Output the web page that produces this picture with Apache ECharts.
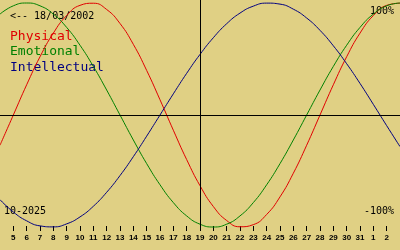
<!DOCTYPE html>
<html>
<head>
<meta charset="utf-8">
<script src="https://cdn.jsdelivr.net/npm/echarts@6/dist/echarts.min.js"></script>
<style>
html,body{margin:0;padding:0;background:#E0D084;}
#c{width:400px;height:250px;}
</style>
</head>
<body>
<div id="c"></div>
<script>
// Days shown (October 2025, continuing into November: 32 = 1 Nov, 33 = 2 Nov)
const days = [4,5,6,7,8,9,10,11,12,13,14,15,16,17,18,19,20,21,22,23,24,25,26,27,28,29,30,31,32,33,34];
const physical = [-0.27,0,0.27,0.52,0.731,0.888,0.979,0.998,0.942,0.817,0.631,0.398,0.136,-0.136,-0.398,-0.631,-0.817,-0.942,-0.998,-0.979,-0.888,-0.731,-0.52,-0.27,0,0.27,0.52,0.731,0.888,0.979,0.998];
const emotional = [0.901,0.975,1,0.975,0.901,0.782,0.623,0.434,0.223,0,-0.223,-0.434,-0.623,-0.782,-0.901,-0.975,-1,-0.975,-0.901,-0.782,-0.623,-0.434,-0.223,0,0.223,0.434,0.623,0.782,0.901,0.975,1];
const intellectual = [-0.756,-0.866,-0.945,-0.99,-0.999,-0.972,-0.91,-0.815,-0.69,-0.541,-0.372,-0.189,0,0.189,0.372,0.541,0.69,0.815,0.91,0.972,0.999,0.99,0.945,0.866,0.756,0.618,0.458,0.282,0.095,-0.095,-0.282];
const tickDays = [5,6,7,8,9,10,11,12,13,14,15,16,17,18,19,20,21,22,23,24,25,26,27,28,29,30,31,32,33];
const today = 19;
const seriesNames = ['Physical','Emotional','Intellectual'];
const seriesColors = ['#E00000','#008000','#000080'];
const birthLabel = '<-- 18/03/2002';
const monthLabel = '10-2025';
const topLabel = '100%';
const bottomLabel = '-100%';

const chart = echarts.init(document.getElementById('c'), null, {renderer:'canvas'});
const pairs = arr => days.map((d,i)=>[d,arr[i]]);
const vals = [physical, emotional, intellectual];
const mono = '"DejaVu Sans Mono", monospace';

const series = [{
  type:'line', data:[], z:1, silent:true,
  markLine:{
    silent:true, symbol:'none', animation:false,
    label:{show:false},
    lineStyle:{color:'#000', width:1, type:'solid'},
    data:[{xAxis: today}, {yAxis: 0}]
  }
}];
vals.forEach((v,i)=>{
  series.push({
    name: seriesNames[i], type:'line', data: pairs(v), smooth:true,
    showSymbol:false, z:2, animation:false,
    lineStyle:{color: seriesColors[i], width:1}
  });
});

chart.setOption({
  backgroundColor:'#E0D084',
  animation:false,
  grid:{left:0, right:0, top:0, bottom:19},
  xAxis:{
    type:'value', min:4, max:34,
    axisLine:{show:false, onZero:false},
    splitLine:{show:false},
    axisTick:{show:true, inside:true, length:5, lineStyle:{color:'#000', width:1}, customValues: tickDays},
    axisLabel:{
      show:true, margin:3, color:'#000',
      fontFamily:'"Liberation Sans", Arial, sans-serif', fontWeight:'bold', fontSize:8,
      customValues: tickDays,
      formatter: v => String(v > 31 ? v - 31 : v)
    }
  },
  yAxis:{
    type:'value', min:-1.0357, max:1.0268, show:false,
    splitLine:{show:false}
  },
  series: series,
  graphic:[
    {type:'text', left:10, top:11, style:{text:birthLabel, font:'10px '+mono, fill:'#000'}},
    {type:'text', left:10, top:30, style:{text:seriesNames[0], font:'13px '+mono, fill:seriesColors[0]}},
    {type:'text', left:10, top:45, style:{text:seriesNames[1], font:'13px '+mono, fill:seriesColors[1]}},
    {type:'text', left:10, top:61, style:{text:seriesNames[2], font:'13px '+mono, fill:seriesColors[2]}},
    {type:'text', right:6, top:6, style:{text:topLabel, font:'10px '+mono, fill:'#000'}},
    {type:'text', right:6, top:206, style:{text:bottomLabel, font:'10px '+mono, fill:'#000'}},
    {type:'text', left:4, top:206, style:{text:monthLabel, font:'10px '+mono, fill:'#000'}}
  ]
});
</script>
</body>
</html>
